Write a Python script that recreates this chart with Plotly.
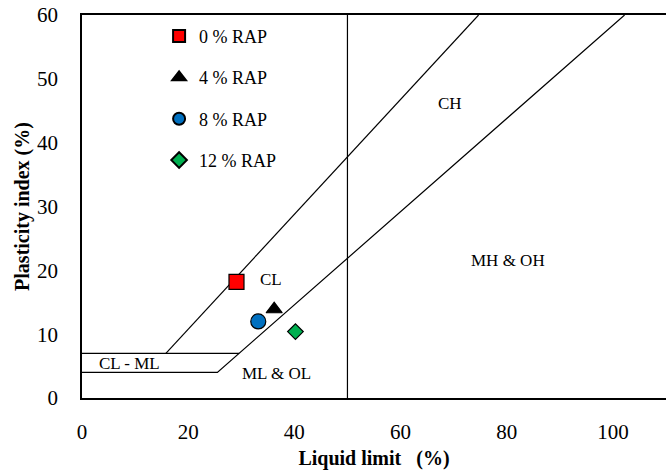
import plotly.graph_objects as go

# Soil samples: liquid limit (LL) and plasticity index (PI), in %
series_names = ["0 % RAP", "4 % RAP", "8 % RAP", "12 % RAP"]
liquid_limit = [29.1, 36.2, 33.2, 40.2]
plasticity_index = [18.2, 13.9, 12.0, 10.4]

# Casagrande plasticity chart boundaries (end points)
a_line_ll = [0, 25.5, 102.2]
a_line_pi = [4, 4, 60]
u_line_ll = [0, 29.6, None, 15.8, 74.7]
u_line_pi = [7, 7, None, 7, 60]
ll50_ll = [50, 50]
ll50_pi = [0, 60]

# Zone labels
zone_text = ["CL", "CH", "MH & OH", "ML & OL", "CL - ML"]
zone_ll = [35.6, 69.3, 80.3, 36.7, 9.0]
zone_pi = [18.5, 46.2, 21.6, 3.9, 5.4]

FONT = "Liberation Serif, Times New Roman, serif"

styles = [
    dict(symbol="square", color="#ff0000", size=15),
    dict(symbol="triangle-up", color="#000000", size=14),
    dict(symbol="circle", color="#0070c0", size=15),
    dict(symbol="diamond", color="#00b050", size=12),
]

fig = go.Figure()

line_style = dict(color="black", width=1.2)
for xs, ys in [(a_line_ll, a_line_pi), (u_line_ll, u_line_pi), (ll50_ll, ll50_pi)]:
    fig.add_trace(go.Scatter(x=xs, y=ys, mode="lines", line=line_style,
                             showlegend=False, hoverinfo="skip"))

for i, name in enumerate(series_names):
    st = styles[i]
    fig.add_trace(go.Scatter(
        x=[liquid_limit[i]], y=[plasticity_index[i]], mode="markers", name=name,
        legendgroup=name,
        marker=dict(symbol=st["symbol"], color=st["color"], size=st["size"],
                    line=dict(color="black", width=1.2)),
    ))

for t, x, y in zip(zone_text, zone_ll, zone_pi):
    fig.add_annotation(x=x, y=y, text=t, showarrow=False,
                       font=dict(family=FONT, size=17, color="black"))

fig.update_layout(
    width=667, height=475,
    margin=dict(l=82, r=1, t=15, b=77),
    plot_bgcolor="white", paper_bgcolor="white",
    font=dict(family=FONT, color="black"),
    showlegend=True,
    legend=dict(x=0.132, y=0.993, xanchor="left", yanchor="top",
                font=dict(family=FONT, size=18), bgcolor="rgba(0,0,0,0)",
                tracegroupgap=15, itemwidth=30, itemsizing="constant",
                traceorder="grouped"),
    xaxis=dict(range=[0, 110], tickvals=[0, 20, 40, 60, 80, 100],
               showgrid=False, zeroline=False, showline=True, mirror=True,
               linecolor="black", linewidth=1.5, ticks="",
               ticklabelstandoff=14,
               tickfont=dict(family=FONT, size=21),
               title=dict(text="<b>Liquid limit   (%)</b>", standoff=8,
                          font=dict(family=FONT, size=20))),
    yaxis=dict(range=[0, 60], tickvals=[0, 10, 20, 30, 40, 50, 60],
               showgrid=False, zeroline=False, showline=True, mirror=False,
               linecolor="black", linewidth=1.5, ticks="",
               ticklabelstandoff=18,
               tickfont=dict(family=FONT, size=21),
               title=dict(text="<b>Plasticity index (%)</b>", standoff=2,
                          font=dict(family=FONT, size=20))),
)

fig.write_html("out.html")
